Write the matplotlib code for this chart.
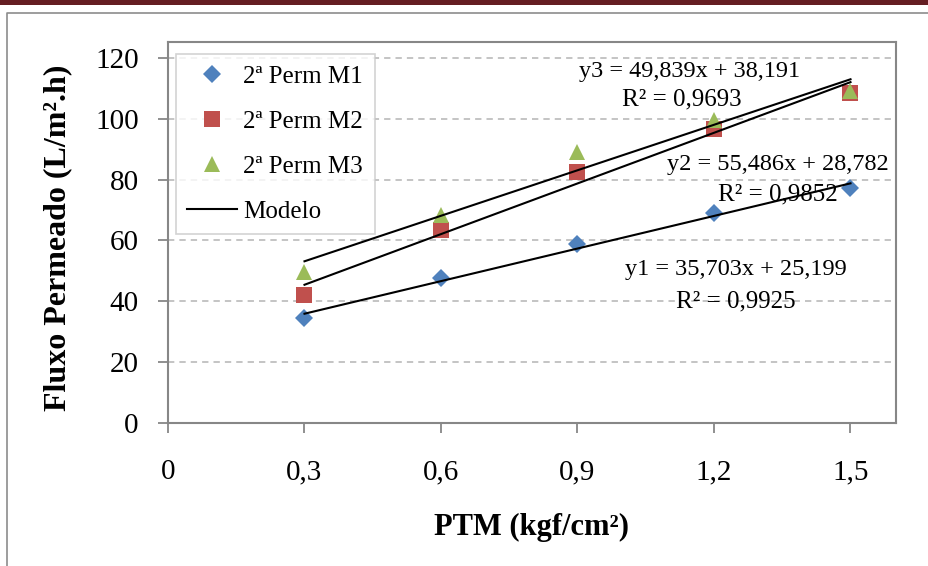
import matplotlib
matplotlib.use("Agg")
import matplotlib.pyplot as plt
from matplotlib.patches import Rectangle
from matplotlib.lines import Line2D
import numpy as np

# ── DATA ──────────────────────────────────────────────────────────────────────
PTM = [0.3, 0.6, 0.9, 1.2, 1.5]
FLUX_M1 = [34.5, 47.5, 58.8, 69.0, 77.2]
FLUX_M2 = [42.0, 63.5, 82.5, 96.5, 108.5]
FLUX_M3 = [49.5, 68.5, 89.0, 99.5, 109.0]
SERIES_NAMES = ["2ª Perm M1", "2ª Perm M2", "2ª Perm M3"]

# trendline coefficients as printed on the chart (slope, intercept)
FIT_SLOPE = [35.703, 55.486, 49.839]
FIT_INTERCEPT = [25.199, 28.782, 38.191]
FIT_EQ = ["y1 = 35,703x + 25,199", "y2 = 55,486x + 28,782", "y3 = 49,839x + 38,191"]
FIT_R2 = ["R² = 0,9925", "R² = 0,9852", "R² = 0,9693"]

X_TICKS = [0, 0.3, 0.6, 0.9, 1.2, 1.5]
X_TICKLABELS = ["0", "0,3", "0,6", "0,9", "1,2", "1,5"]
Y_TICKS = [0, 20, 40, 60, 80, 100, 120]

# ── STYLE ─────────────────────────────────────────────────────────────────────
W, H = 929, 566
FONT = "Liberation Serif"
COLORS = ["#4F81BD", "#C0504D", "#9BBB59"]
MARKERS = ["D", "s", "^"]
MSIZE = [8.8, 11, 12]
GRAY = "#878787"

plt.rcParams["font.family"] = [FONT, "DejaVu Serif"]

fig = plt.figure(figsize=(W / 100, H / 100), dpi=100)

# top dark red band and the outer grey frame
fig.patches.append(Rectangle((0, 1 - 5 / H), 1, 5 / H, transform=fig.transFigure,
                             facecolor="#651e22", edgecolor="none"))
fig.lines.append(Line2D([7 / W, 7 / W, 1], [0, 1 - 13 / H, 1 - 13 / H],
                        transform=fig.transFigure, color="#8c8c8c", lw=1.2))

# plot area in pixel layout
left, right, top, bottom = 168, 896, 42, 423
ax = fig.add_axes([left / W, 1 - bottom / H, (right - left) / W, (bottom - top) / H])

ax.set_xlim(0, 1.6)
ax.set_ylim(0, 125.2)

for y in Y_TICKS[1:]:
    ax.axhline(y, color="#bfbfbf", lw=1.3, ls=(0, (3.5, 2.8)), zorder=1)

series = [FLUX_M1, FLUX_M2, FLUX_M3]
for i, vals in enumerate(series):
    ax.plot(PTM, vals, ls="none", marker=MARKERS[i], ms=MSIZE[i],
            color=COLORS[i], mec=COLORS[i], mew=0, zorder=3 + i * 0.1,
            label=SERIES_NAMES[i])

# linear trendlines across the data range
xs = np.array([PTM[0], PTM[-1]])
for k in range(3):
    ax.plot(xs, FIT_SLOPE[k] * xs + FIT_INTERCEPT[k], color="black", lw=1.5,
            zorder=5, label="Modelo" if k == 0 else None)

# equation labels (x, y in data units)
eq_pos = [(1.248, 50.3), (1.340, 84.8), (1.147, 115.4)]
r2_pos = [(1.248, 39.8), (1.340, 75.0), (1.129, 106.2)]
for k in range(3):
    ax.text(*eq_pos[k], FIT_EQ[k], ha="center", va="center", fontsize=17.5, zorder=4)
    ax.text(*r2_pos[k], FIT_R2[k], ha="center", va="center", fontsize=18, zorder=4)

ax.set_xticks(X_TICKS)
ax.set_xticklabels(X_TICKLABELS)
ax.set_yticks(Y_TICKS)
ax.tick_params(axis="both", direction="out", length=7, width=1.3, color=GRAY,
               labelsize=21)
ax.tick_params(axis="x", pad=19)
ax.tick_params(axis="y", pad=14)
for s in ax.spines.values():
    s.set_color(GRAY)
    s.set_linewidth(1.5)

ax.set_xlabel("PTM (kgf/cm²)", fontsize=22, fontweight="bold", labelpad=20)
ax.set_ylabel("Fluxo Permeado (L/m².h)", fontsize=23, fontweight="bold", va="center")
ax.yaxis.set_label_coords(-0.151, 0.486)

leg = ax.legend(loc="upper left", bbox_to_anchor=(176 / W, 1 - 54 / H),
                bbox_transform=fig.transFigure, borderaxespad=0, fontsize=18,
                frameon=True, fancybox=False, edgecolor="#c8c8c8",
                handlelength=2.0, handletextpad=0.25, labelspacing=0.9,
                borderpad=0.45, numpoints=1)
leg.get_frame().set_linewidth(1.2)

fig.savefig("out.png", dpi=100)
